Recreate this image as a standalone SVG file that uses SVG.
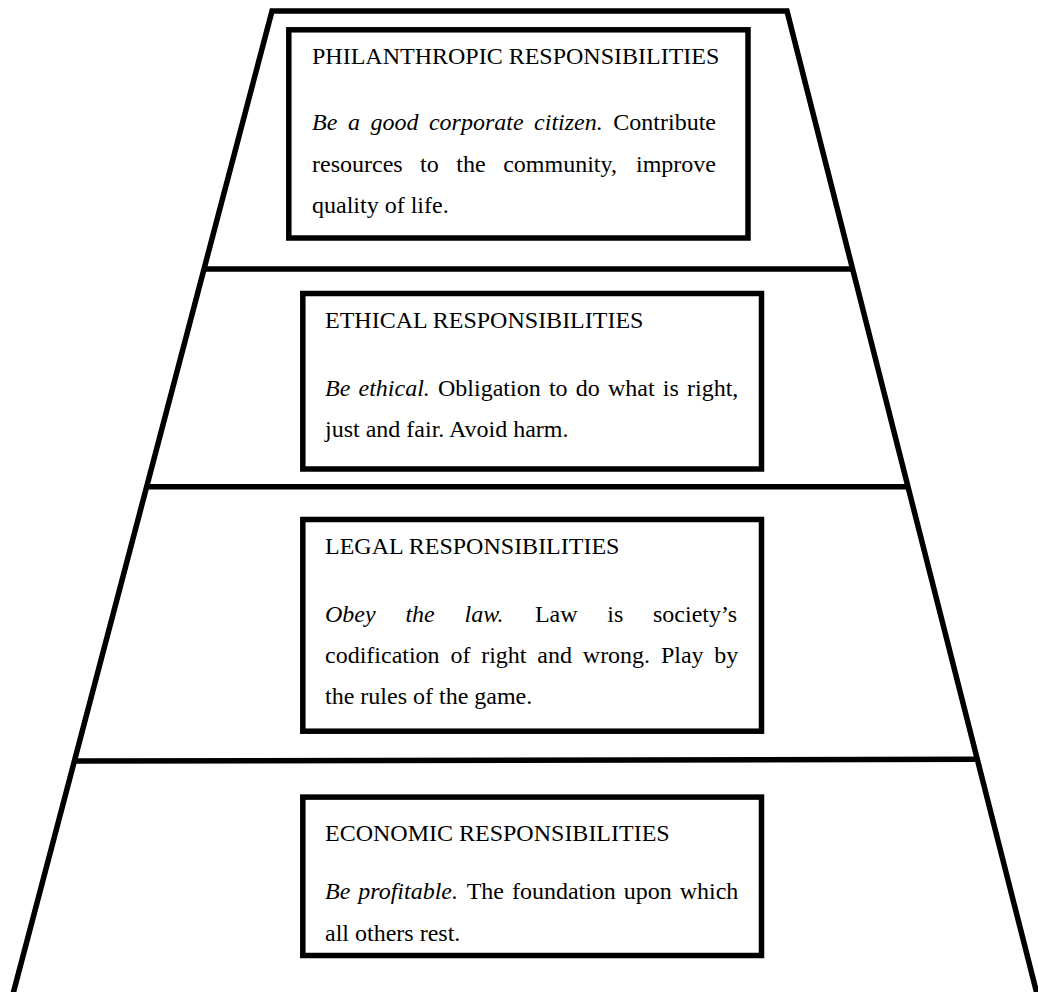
<svg xmlns="http://www.w3.org/2000/svg" width="1038" height="992" viewBox="0 0 1038 992">
<style>
.ln{fill:none;stroke:#000;stroke-width:5.5;stroke-linejoin:miter;stroke-linecap:butt}
.bx{fill:#fff;stroke:#000;stroke-width:5.5}
text{font-family:"Liberation Serif","Times New Roman",serif;font-size:24px;fill:#000}
.i{font-style:italic}
</style>
<rect x="0" y="0" width="1038" height="992" fill="#fff"/>
<g id="pyramid">
<path class="ln" d="M13,994 L272,11 L787,11 L1037,994"/>
</g>
<g id="connectors">
<line class="ln" x1="204" y1="269" x2="852.5" y2="269"/>
<line class="ln" x1="146.5" y1="486.7" x2="908" y2="486.7"/>
<line class="ln" x1="74" y1="761" x2="978" y2="759.3"/>
</g>
<g id="philanthropic">
<rect class="bx" x="288.8" y="29.8" width="459.2" height="208.2"/>
<text x="312" y="64">PHILANTHROPIC RESPONSIBILITIES</text>
<text y="130"><tspan class="i" x="312">Be</tspan><tspan class="i" x="347.9">a</tspan><tspan class="i" x="370.4">good</tspan><tspan class="i" x="428.9">corporate</tspan><tspan class="i" x="534.1">citizen.</tspan><tspan x="613.3">Contribute</tspan></text>
<text y="171.7"><tspan x="312">resources</tspan><tspan x="420.1">to</tspan><tspan x="456.3">the</tspan><tspan x="503.2">community,</tspan><tspan x="636">improve</tspan></text>
<text x="312" y="213">quality of life.</text>
</g>
<g id="ethical">
<rect class="bx" x="302.8" y="293.5" width="458.7" height="175.5"/>
<text x="325" y="328.3">ETHICAL RESPONSIBILITIES</text>
<text y="396"><tspan class="i" x="325">Be</tspan><tspan class="i" x="358.5">ethical.</tspan><tspan x="438">Obligation</tspan><tspan x="548.9">to</tspan><tspan x="575.8">do</tspan><tspan x="607.9">what</tspan><tspan x="662.8">is</tspan><tspan x="687">right,</tspan></text>
<text x="325" y="436.7">just and fair. Avoid harm.</text>
</g>
<g id="legal">
<rect class="bx" x="302.8" y="519.5" width="458.7" height="211.7"/>
<text x="325" y="554">LEGAL RESPONSIBILITIES</text>
<text y="622.3"><tspan class="i" x="325">Obey</tspan><tspan class="i" x="405.4">the</tspan><tspan class="i" x="464.5">law.</tspan><tspan x="534.9">Law</tspan><tspan x="607.3">is</tspan><tspan x="653">society’s</tspan></text>
<text y="662.7"><tspan x="325">codification</tspan><tspan x="450.4">of</tspan><tspan x="481.2">right</tspan><tspan x="537.3">and</tspan><tspan x="582.8">wrong.</tspan><tspan x="660.9">Play</tspan><tspan x="714.3">by</tspan></text>
<text x="325" y="704">the rules of the game.</text>
</g>
<g id="economic">
<rect class="bx" x="302.8" y="797.1" width="458.7" height="158.4"/>
<text x="325" y="841">ECONOMIC RESPONSIBILITIES</text>
<text y="899"><tspan class="i" x="325">Be</tspan><tspan class="i" x="358.2">profitable.</tspan><tspan x="466.7">The</tspan><tspan x="511.9">foundation</tspan><tspan x="623.8">upon</tspan><tspan x="679.7">which</tspan></text>
<text x="325" y="941">all others rest.</text>
</g>
</svg>
